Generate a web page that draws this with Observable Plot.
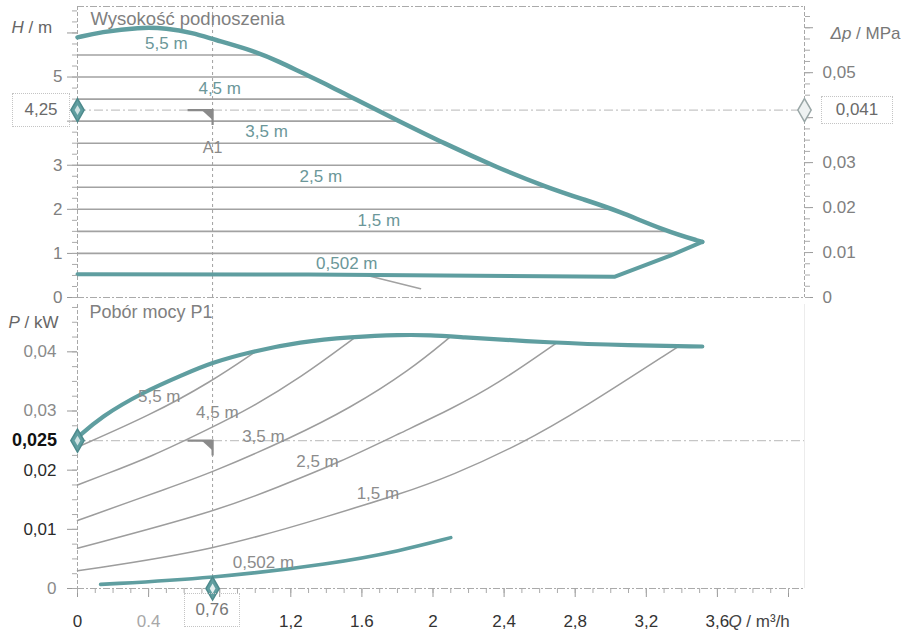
<!DOCTYPE html>
<html><head><meta charset="utf-8">
<script src="https://cdn.jsdelivr.net/npm/d3@7"></script>
<script src="https://cdn.jsdelivr.net/npm/@observablehq/plot@0.6"></script>
<style>
body{margin:0;background:#fff;font-family:"Liberation Sans",Arial,sans-serif;}
#wrap{position:relative;width:901px;height:634px;overflow:hidden;background:#fff;}
#top,#bot{position:absolute;left:0;}
#top{top:0;} #bot{top:300px;}
svg{overflow:visible;}
.box{position:absolute;border:1px dotted #c4c4c4;color:#6a6a6a;font-size:17px;display:flex;align-items:center;justify-content:center;box-sizing:border-box;}
.plain{position:absolute;font-size:18px;font-weight:bold;color:#111;text-align:right;}
</style></head><body>
<div id="wrap"><div id="top"></div><div id="bot"></div></div>
<script>
// ---------- data ----------
// Head (H / m) envelope: maximum curve
const headMaxQ = [0, 0.13, 0.35, 0.5, 0.65, 0.76, 0.99, 1.14, 1.256, 1.42, 1.55, 1.80, 2.06, 2.36, 2.64, 2.85, 3.04, 3.30, 3.515];
const headMaxH = [5.9, 6.02, 6.13, 6.11, 6.0, 5.86, 5.6, 5.34, 5.11, 4.8, 4.52, 4.02, 3.5, 2.95, 2.5, 2.22, 1.97, 1.52, 1.26];
// return branch + minimum curve (0,502 m)
const headMinQ = [3.515, 3.335, 3.02, 1.3, 0];
const headMinH = [1.26, 0.95, 0.47, 0.52, 0.53];
// short grey segment below the minimum curve
const headStubQ = [1.63, 1.93];
const headStubH = [0.5, 0.2];
// constant-pressure lines (top panel)
const isoLevels = [5.5, 5, 4.5, 4, 3.5, 3, 2.5, 2, 1.5, 1];
const isoEndQ   = [1.05, 1.31, 1.56, 1.81, 2.06, 2.33, 2.64, 3.02, 3.31, 3.37];
const headLabelText = ["5,5 m", "4,5 m", "3,5 m", "2,5 m", "1,5 m", "0,502 m"];
const headLabelQ = [0.5, 0.8, 1.064, 1.369, 1.695, 1.515];
const headLabelH = [5.75, 4.75, 3.77, 2.75, 1.75, 0.77];

// Power (P1 / kW)
const powMaxQ = [0, 0.13, 0.37, 0.6, 0.748, 0.973, 1.254, 1.535, 1.817, 2.0, 2.1, 2.68, 3.1, 3.515];
const powMaxP = [0.0255, 0.029, 0.0332, 0.0362, 0.0381, 0.0400, 0.0417, 0.0425, 0.0429, 0.0428, 0.0426, 0.0415, 0.0411, 0.0409];
const powMinQ = [0.13, 0.748, 1.44, 1.82, 2.1];
const powMinP = [0.0007, 0.0017, 0.0042, 0.0064, 0.0086];
const pow55Q = [0, 0.41, 0.75, 1.0];
const pow55P = [0.0239, 0.0293, 0.0349, 0.0400];
const pow45Q = [0, 0.13, 0.41, 0.748, 0.973, 1.254, 1.56];
const pow45P = [0.0175, 0.0190, 0.0222, 0.0271, 0.0305, 0.0356, 0.0424];
const pow35Q = [0, 0.523, 0.748, 1.198, 1.535, 1.87, 2.1];
const pow35P = [0.0115, 0.0171, 0.0195, 0.0254, 0.0305, 0.0369, 0.0426];
const pow25Q = [0, 0.765, 1.125, 1.48, 1.817, 2.1, 2.36, 2.69];
const pow25P = [0.0068, 0.0129, 0.0171, 0.0214, 0.0263, 0.0303, 0.0345, 0.0414];
const pow15Q = [0, 0.765, 1.44, 1.82, 2.1, 2.5, 2.83, 3.38];
const pow15P = [0.0030, 0.0064, 0.0125, 0.0160, 0.0190, 0.0245, 0.0302, 0.0409];
const powLabelText = ["5,5 m", "4,5 m", "3,5 m", "2,5 m", "1,5 m", "0,502 m"];
const powLabelQ = [0.46, 0.787, 1.046, 1.35, 1.69, 1.046];
const powLabelP = [0.0324, 0.0297, 0.0256, 0.0214, 0.0161, 0.0044];

// operating point A1
const opQ = 0.76, opH = 4.25, opDp = "0,041", opP = 0.025;

// tick labels
const hTickVals = [0, 1, 2, 3, 5];
const hTickLabels = ["0", "1", "2", "3", "5"];
const dpTickVals = [0, 0.01, 0.02, 0.03, 0.05];
const dpTickLabels = ["0", "0.01", "0.02", "0,03", "0,05"];
const pTickVals = [0, 0.01, 0.02, 0.03, 0.04];
const pTickLabels = ["0", "0,01", "0,02", "0,03", "0,04"];
const qTickVals = [0, 0.4, 1.2, 1.6, 2, 2.4, 2.8, 3.2, 3.6];
const qTickLabels = ["0", "0.4", "1,2", "1.6", "2", "2,4", "2,8", "3,2", "3,6"];

// ---------- drawing ----------
const MPA_TO_M = 101.97;
const QMAX = 4.09;
const teal = "#5f9ea0";
const font = '"Liberation Sans", Arial, sans-serif';
const rows = (qs, vs) => qs.map((q, i) => ({q, v: vs[i]}));

const a1Lines = {draw(c){ c.moveTo(-25,0); c.lineTo(0,0); c.lineTo(0,15); }};
const a1Tri = {draw(c){ c.moveTo(-11,0); c.lineTo(0,0); c.lineTo(0,10); c.closePath(); }};

const isoRows = isoLevels.map((h, i) => ({h, q0: 0, q1: isoEndQ[i]}));
const dash = {stroke: "#aaa", strokeDasharray: "7,2,2,2"};

const topPlot = Plot.plot({
  width: 901, height: 300, marginLeft: 77, marginRight: 97, marginTop: 6, marginBottom: 3,
  x: {domain: [0, QMAX], axis: null},
  y: {domain: [0, 6.6], axis: null},
  style: {fontFamily: font, fontSize: "17px", background: "transparent", overflow: "visible"},
  marks: [
    Plot.ruleY([6.6], dash),
    Plot.ruleY([0], dash),
    Plot.ruleX([0], {stroke: "#a8a8a8", strokeDasharray: "4,2"}),
    Plot.ruleX([QMAX], {stroke: "#a8a8a8", strokeDasharray: "4,2"}),
    Plot.ruleX([opQ], {stroke: "#a0a0a0", strokeDasharray: "3,3"}),
    Plot.ruleY([opH], {stroke: "#c6c6c6", strokeDasharray: "9,3,2,3", strokeWidth: 1.3}),
    Plot.ruleY(isoRows, {y: "h", x1: "q0", x2: "q1", stroke: "#a2a2a2", strokeWidth: 1.6}),
    Plot.line(rows(headStubQ, headStubH), {x: "q", y: "v", stroke: "#a2a2a2", strokeWidth: 1.5}),
    Plot.line(rows(headMaxQ, headMaxH), {x: "q", y: "v", stroke: teal, strokeWidth: 4.5, curve: "basis", strokeLinejoin: "round"}),
    Plot.line(rows(headMinQ, headMinH), {x: "q", y: "v", stroke: teal, strokeWidth: 4, strokeLinejoin: "round"}),
    Plot.text(headLabelText, {x: (d, i) => headLabelQ[i], y: (d, i) => headLabelH[i], text: d => d, fill: "#6b9799"}),
    // A1 marker
    Plot.dot([{q: opQ, v: opH}], {x: "q", y: "v", symbol: a1Lines, fill: "none", stroke: "#8a8a8a", strokeWidth: 2.2}),
    Plot.dot([{q: opQ, v: opH}], {x: "q", y: "v", symbol: a1Tri, fill: "#8a8a8a", stroke: "none"}),
    Plot.text(["A1"], {x: () => opQ, y: () => opH, dy: 38, fill: "#8a8a8a", fontSize: 16}),
    // axis ticks
    Plot.axisY({anchor: "left", ticks: d3.range(0, 6.6, 1), tickSize: 10, tickFormat: () => "", label: null, stroke: "#999"}),
    Plot.axisY({anchor: "left", ticks: d3.range(0, 6.6, 0.25), tickSize: 5, tickFormat: () => "", label: null, stroke: "#aaa"}),
    Plot.axisY({anchor: "right", ticks: d3.range(0, 0.065, 0.01).map(d => d * MPA_TO_M), tickSize: 8, tickFormat: () => "", label: null, stroke: "#999"}),
    Plot.axisY({anchor: "right", ticks: d3.range(0, 0.065, 0.0025).map(d => d * MPA_TO_M), tickSize: 5, tickFormat: () => "", label: null, stroke: "#aaa"}),
    // tick labels
    Plot.text(hTickVals, {y: d => d, text: (d, i) => hTickLabels[i], frameAnchor: "left", dx: -15, textAnchor: "end", fill: "#808080"}),
    Plot.text(dpTickVals, {y: d => d * MPA_TO_M, text: (d, i) => dpTickLabels[i], frameAnchor: "right", dx: 18, textAnchor: "start", fill: "#808080"}),
    // diamonds
    Plot.dot([{q: 0, v: opH}], {x: "q", y: "v", symbol: "diamond", r: 7, fill: teal, stroke: "#4d8a8c"}),
    Plot.dot([{q: 0, v: opH}], {x: "q", y: "v", symbol: "diamond", r: 3, fill: "#cfe2e2"}),
    Plot.dot([{q: QMAX, v: opH}], {x: "q", y: "v", symbol: "diamond", r: 7, fill: "#eef2f2", stroke: "#9aa7a7", strokeWidth: 1.5}),
    // titles
    Plot.text(["Wysokość podnoszenia"], {frameAnchor: "top-left", dx: 13, dy: 13, textAnchor: "start", lineAnchor: "middle", fill: "#808080", fontSize: 18.5}),
    Plot.text(["H / m"], {frameAnchor: "top-left", dx: -66, dy: 21, textAnchor: "start", lineAnchor: "middle", fill: "#666", fontSize: 17}),
    Plot.text(["Δp / MPa"], {frameAnchor: "top-right", dx: 26, dy: 27, textAnchor: "start", lineAnchor: "middle", fill: "#777", fontSize: 17})
  ]
});

const botPlot = Plot.plot({
  width: 901, height: 334, marginLeft: 77, marginRight: 97, marginTop: 4, marginBottom: 46,
  x: {domain: [0, QMAX], axis: null},
  y: {domain: [0, 0.048], axis: null},
  style: {fontFamily: font, fontSize: "17px", background: "transparent", overflow: "visible"},
  marks: [
    Plot.ruleY([0], dash),
    Plot.ruleX([0], {stroke: "#a8a8a8", strokeDasharray: "4,2"}),
    Plot.ruleX([QMAX], {stroke: "#ececec"}),
    Plot.ruleX([opQ], {stroke: "#a0a0a0", strokeDasharray: "3,3"}),
    Plot.ruleY([opP], {stroke: "#c6c6c6", strokeDasharray: "9,3,2,3", strokeWidth: 1.3}),
    ...[[pow55Q, pow55P], [pow45Q, pow45P], [pow35Q, pow35P], [pow25Q, pow25P], [pow15Q, pow15P]].map(([qs, ps]) =>
      Plot.line(rows(qs, ps), {x: "q", y: "v", stroke: "#9d9d9d", strokeWidth: 1.5, curve: "basis"})),
    Plot.line(rows(powMaxQ, powMaxP), {x: "q", y: "v", stroke: teal, strokeWidth: 4.2, curve: "basis"}),
    Plot.line(rows(powMinQ, powMinP), {x: "q", y: "v", stroke: teal, strokeWidth: 3.6, curve: "basis"}),
    Plot.text(powLabelText, {x: (d, i) => powLabelQ[i], y: (d, i) => powLabelP[i], text: d => d, fill: "#8c8c8c"}),
    Plot.dot([{q: opQ, v: opP}], {x: "q", y: "v", symbol: a1Lines, fill: "none", stroke: "#8a8a8a", strokeWidth: 2.2}),
    Plot.dot([{q: opQ, v: opP}], {x: "q", y: "v", symbol: a1Tri, fill: "#8a8a8a", stroke: "none"}),
    // ticks
    Plot.axisY({anchor: "left", ticks: d3.range(0, 0.0481, 0.01), tickSize: 10, tickFormat: () => "", label: null, stroke: "#999"}),
    Plot.axisY({anchor: "left", ticks: d3.range(0, 0.0481, 0.0025), tickSize: 5, tickFormat: () => "", label: null, stroke: "#aaa"}),
    Plot.axisX({anchor: "bottom", ticks: d3.range(0, 4.05, 0.4), tickSize: 9, tickFormat: () => "", label: null, stroke: "#999"}),
    Plot.axisX({anchor: "bottom", ticks: d3.range(0, 4.05, 0.1), tickSize: 5, tickFormat: () => "", label: null, stroke: "#aaa"}),
    Plot.text(pTickVals, {y: d => d, text: (d, i) => pTickLabels[i], frameAnchor: "left", dx: -21, textAnchor: "end",
      fill: d => (d === 0.01 || d === 0.02) ? "#2a2a2a" : "#8a8a8a"}),
    Plot.text(qTickVals, {x: d => d, text: (d, i) => qTickLabels[i], frameAnchor: "bottom", dy: 33, lineAnchor: "middle",
      fill: d => d === 0.4 ? "#a8a8a8" : "#333"}),
    Plot.text([3.6], {x: d => d, text: () => "Q / m³/h", frameAnchor: "bottom", dx: 11, dy: 33, lineAnchor: "middle", textAnchor: "start", fill: "#444"}),
    // diamonds
    Plot.dot([{q: 0, v: opP}], {x: "q", y: "v", symbol: "diamond", r: 7, fill: teal, stroke: "#4d8a8c"}),
    Plot.dot([{q: 0, v: opP}], {x: "q", y: "v", symbol: "diamond", r: 3, fill: "#cfe2e2"}),
    Plot.dot([{q: opQ, v: 0}], {x: "q", y: "v", symbol: "diamond", r: 7, fill: teal, stroke: "#4d8a8c"}),
    Plot.dot([{q: opQ, v: 0}], {x: "q", y: "v", symbol: "diamond", r: 3, fill: "#e4efef"}),
    // titles
    Plot.text(["Pobór mocy P1"], {frameAnchor: "top-left", dx: 12, dy: 8, textAnchor: "start", lineAnchor: "middle", fill: "#808080", fontSize: 18}),
    Plot.text(["P / kW"], {frameAnchor: "top-left", dx: -19, dy: 18, textAnchor: "end", lineAnchor: "middle", fill: "#666", fontSize: 17})
  ]
});

document.getElementById("top").appendChild(topPlot);
document.getElementById("bot").appendChild(botPlot);

// italic symbols in axis titles
const italic = {"H / m": "H", "Δp / MPa": "Δp", "P / kW": "P", "Q / m³/h": "Q"};
for (const svg of [topPlot, botPlot]) {
  d3.select(svg).selectAll("text").each(function() {
    const t = this.textContent;
    if (italic[t]) {
      const s = italic[t];
      this.textContent = "";
      d3.select(this).append("tspan").attr("font-style", "italic").text(s);
      d3.select(this).append("tspan").text(t.slice(s.length));
    }
  });
}

// highlighted value boxes, positioned through the plot scales
const yT = topPlot.scale("y"), xT = topPlot.scale("x");
const yB = botPlot.scale("y"), xB = botPlot.scale("x");
const wrap = document.getElementById("wrap");
function addBox(cls, text, left, top, w, h) {
  const d = document.createElement("div");
  d.className = cls; d.textContent = text;
  Object.assign(d.style, {left: left + "px", top: top + "px", width: w + "px", height: h + "px"});
  wrap.appendChild(d);
  return d;
}
const yOp = yT.apply(opH);
addBox("box", "4,25", xT.apply(0) - 65, yOp - 17, 58, 34);
addBox("box", opDp, xT.apply(QMAX) + 17, yOp - 14, 72, 28);
const b = addBox("box", "0,76", xB.apply(opQ) - 28, 300 + yB.apply(0) + 5, 56, 34);
b.style.color = "#777";
const p = addBox("plain", "0,025", 0, 300 + yB.apply(opP) - 11, xB.apply(0) - 20, 22);
p.style.lineHeight = "22px";
</script>
</body></html>
